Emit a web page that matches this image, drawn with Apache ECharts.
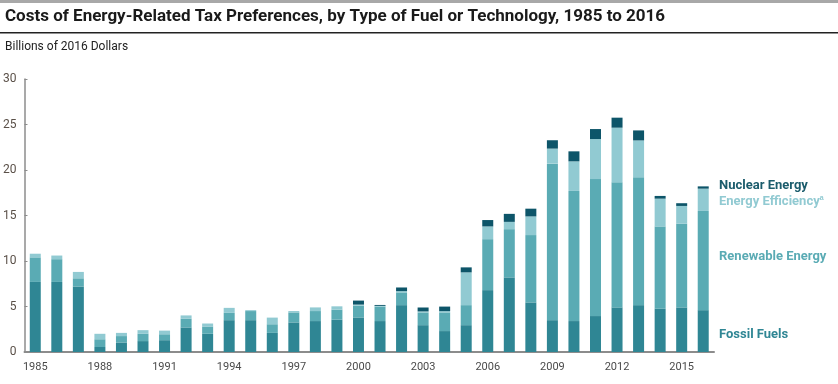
<!DOCTYPE html>
<html>
<head>
<meta charset="utf-8">
<script src="https://cdn.jsdelivr.net/npm/echarts@6/dist/echarts.min.js"></script>
<style>
html,body{margin:0;padding:0;background:#fff;}
#c{width:838px;height:384px;}
</style>
</head>
<body>
<div id="c"></div>
<script>
const years = ['1985','1986','1987','1988','1989','1990','1991','1992','1993','1994','1995','1996','1997','1998','1999','2000','2001','2002','2003','2004','2005','2006','2007','2008','2009','2010','2011','2012','2013','2014','2015','2016'];
const fossilFuels = [7.7,7.7,7.2,0.55,1.05,1.2,1.3,2.7,2.0,3.5,3.5,2.1,3.25,3.4,3.55,3.8,3.4,5.15,2.95,2.3,2.95,6.8,8.2,5.45,3.5,3.4,3.95,4.9,5.15,4.75,4.9,4.6];
const renewableEnergy = [2.7,2.5,0.9,0.85,0.7,0.8,0.65,0.95,0.8,0.8,1.0,0.95,1.1,1.1,1.1,1.3,1.6,1.4,1.4,2.05,2.2,5.6,5.3,7.4,17.2,14.3,15.05,13.75,14.05,9.05,9.2,10.9];
const energyEfficiency = [0.4,0.4,0.7,0.6,0.35,0.4,0.4,0.37,0.33,0.55,0.1,0.73,0.15,0.4,0.37,0.11,0.07,0.14,0.11,0.14,3.6,1.4,0.8,2.05,1.65,3.25,4.4,6.0,4.05,3.05,1.95,2.45];
const nuclearEnergy = [0,0,0,0,0,0,0,0,0,0,0,0,0,0,0,0.44,0.1,0.4,0.43,0.5,0.55,0.7,0.88,0.85,0.92,1.1,1.1,1.1,1.1,0.3,0.3,0.25];
const yTicks = [0,5,10,15,20,25,30];

const chart = echarts.init(document.getElementById('c'), null, {renderer:'canvas'});
const font = 'Roboto, "Open Sans", sans-serif';
function bar(name, data, color){
  return {name, type:'bar', stack:'total', data, barWidth:11,
    itemStyle:{color}, emphasis:{disabled:true}, silent:true};
}
function legendText(text, y, color){
  return {type:'text',left:719,top:y-5,style:{text,font:'bold 13px '+font,fill:color}};
}
chart.setOption({
  animation:false,
  textStyle:{fontFamily:font},
  grid:{left:24,right:124,top:79,bottom:32,containLabel:false},
  xAxis:{type:'category',data:years,
    axisLine:{show:true,lineStyle:{color:'#8c8c8c',width:2}},
    axisTick:{show:false},
    axisLabel:{interval:2,color:'#4a4a4a',fontSize:11,margin:10,fontFamily:font}},
  yAxis:{type:'value',min:yTicks[0],max:yTicks[yTicks.length-1],interval:5,
    axisLine:{show:true,lineStyle:{color:'#8c8c8c',width:1.5}},
    axisTick:{show:true,inside:true,length:3,lineStyle:{color:'#8c8c8c'}},
    splitLine:{show:false},
    axisLabel:{color:'#5a5048',fontSize:12,margin:8,fontFamily:font}},
  series:[
    bar('Fossil Fuels',fossilFuels,'#2f8694'),
    bar('Renewable Energy',renewableEnergy,'#5aabb4'),
    bar('Energy Efficiency',energyEfficiency,'#91cad2'),
    bar('Nuclear Energy',nuclearEnergy,'#0d5569')
  ],
  graphic:[
    {type:'rect',left:0,top:0,shape:{width:838,height:3},style:{fill:'#a8a8a8'}},
    {type:'text',left:5,top:8,style:{text:'Costs of Energy-Related Tax Preferences, by Type of Fuel or Technology, 1985 to 2016',font:'bold 17px '+font,fill:'#1a1a1a'}},
    {type:'rect',left:0,top:32,shape:{width:838,height:1.5},style:{fill:'#222'}},
    {type:'text',left:5,top:41,style:{text:'Billions of 2016 Dollars',font:'12px '+font,fill:'#222'}},
    legendText('Nuclear Energy',184,'#1b5c6c'),
    {type:'text',left:719,top:195,style:{text:'Energy Efficiency{s|a}',font:'bold 13px '+font,fill:'#91cad2',rich:{s:{fontSize:7,fontWeight:'bold',fill:'#91cad2',verticalAlign:'top',padding:[0,0,7,0]}}}},
    legendText('Renewable Energy',255,'#5aabb4'),
    legendText('Fossil Fuels',333,'#2f8694')
  ]
});
</script>
</body>
</html>
